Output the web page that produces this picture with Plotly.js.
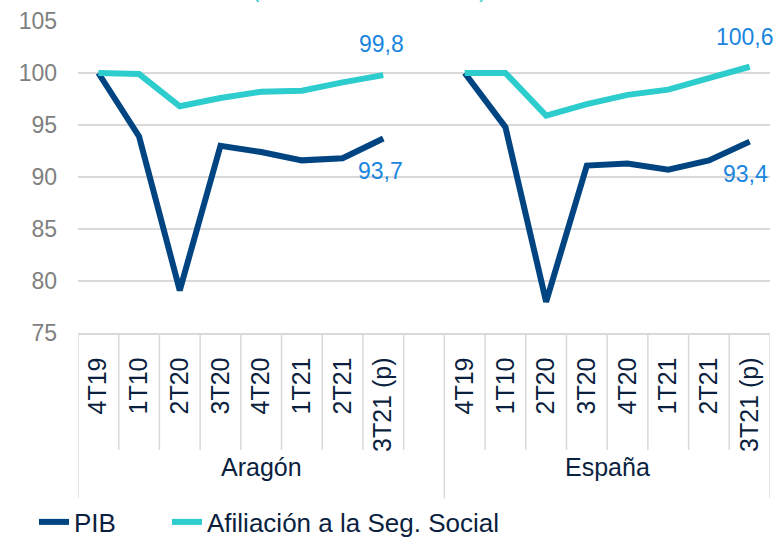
<!DOCTYPE html>
<html><head><meta charset="utf-8">
<script src="https://cdn.plot.ly/plotly-3.0.1.min.js"></script>
<style>html,body{margin:0;padding:0;background:#fff}#chart{width:778px;height:538px}</style>
</head><body><div id="chart"></div>
<script>
// ---- data ----
const quarters = ["4T19", "1T10", "2T20", "3T20", "4T20", "1T21", "2T21", "3T21 (p)"];
const regions = ["Aragón", "España"];
const pibAragon  = [100, 93.9, 79.1, 93.0, 92.4, 91.6, 91.8, 93.7];
const pibEspana  = [100, 94.8, 78.0, 91.1, 91.3, 90.7, 91.6, 93.4];
const afilAragon = [100, 99.9, 96.8, 97.6, 98.2, 98.3, 99.1, 99.8];
const afilEspana = [100, 100.0, 95.9, 97.0, 97.9, 98.4, 99.5, 100.6];
const seriesNames = ["PIB", "Afiliación a la Seg. Social"];
const titleText = "(base 4T19 = 100, total)";

// ---- build positions (gap slot between the two regions) ----
const n = quarters.length;
const gap = 1;
const xA = quarters.map((q, i) => i);
const xE = quarters.map((q, i) => n + gap + i);
const xAll = xA.concat([n]).concat(xE);
const tickText = quarters.concat(quarters);
const tickVals = xA.concat(xE);
const join = (a, b) => a.concat([null]).concat(b);

const navy = "#004481", aqua = "#2dcccd", labelBlue = "#1a86e0", dark = "#0b1f3f";
const font = "Liberation Sans, Arial, sans-serif";

const traces = [
  {x: xAll, y: join(pibAragon, pibEspana), name: seriesNames[0], mode: "lines",
   line: {color: navy, width: 6}, connectgaps: false, legend: "legend"},
  {x: xAll, y: join(afilAragon, afilEspana), name: seriesNames[1], mode: "lines",
   line: {color: aqua, width: 6}, connectgaps: false, legend: "legend2"}
];

const xmin = -0.5, xmax = xE[n - 1] + 0.5;
const shapes = [];
const sepShort = -0.375, sepTall = -0.53;
for (let k = 0; k <= xmax - xmin; k++) {
  const xv = xmin + k;
  const tall = (xv === xmin || xv === xmax || xv === n + 0.5);
  shapes.push({type: "line", xref: "x", yref: "paper", x0: xv, x1: xv, y0: 0, y1: tall ? sepTall : sepShort,
               line: {color: "#d9d9d9", width: 1.5}});
}

const fmt = v => v.toFixed(1).replace(".", ",");
const annotations = [
  {x: (xmin + n + 0.5) / 2, y: -0.481, xref: "x", yref: "paper", text: regions[0], showarrow: false,
   font: {family: font, size: 25, color: dark}},
  {x: (n + 0.5 + xmax) / 2, y: -0.481, xref: "x", yref: "paper", text: regions[1], showarrow: false,
   font: {family: font, size: 25, color: dark}},
  {x: xA[n - 1], y: afilAragon[n - 1], xref: "x", yref: "y", text: fmt(afilAragon[n - 1]),
   showarrow: false, yshift: 31, xshift: -2, font: {family: font, size: 23, color: labelBlue}},
  {x: xA[n - 1], y: pibAragon[n - 1], xref: "x", yref: "y", text: fmt(pibAragon[n - 1]),
   showarrow: false, yshift: -32, xshift: -3, font: {family: font, size: 23, color: labelBlue}},
  {x: xE[n - 1], y: afilEspana[n - 1], xref: "x", yref: "y", text: fmt(afilEspana[n - 1]),
   showarrow: false, yshift: 30, xshift: -5, font: {family: font, size: 23, color: labelBlue}},
  {x: xE[n - 1], y: pibEspana[n - 1], xref: "x", yref: "y", text: fmt(pibEspana[n - 1]),
   showarrow: false, yshift: -32, xshift: -4, font: {family: font, size: 23, color: labelBlue}},
  {x: (250 - 78) / 692, y: 1.055, xref: "paper", yref: "paper", xanchor: "left", yanchor: "bottom",
   text: titleText, showarrow: false, font: {family: font, size: 22, color: aqua}}
];

const legendBase = {orientation: "h", xref: "container", yref: "container", xanchor: "left",
  y: (538 - 522) / 538, yanchor: "middle",
  font: {family: font, size: 26, color: dark}, bgcolor: "rgba(0,0,0,0)", borderwidth: 0};

const layout = {
  width: 778, height: 538,
  margin: {l: 78, r: 8, t: 21, b: 205},
  paper_bgcolor: "#fff", plot_bgcolor: "#fff",
  font: {family: font},
  showlegend: true,
  legend: Object.assign({}, legendBase, {x: 34 / 778}),
  legend2: Object.assign({}, legendBase, {x: 167 / 778}),
  xaxis: {type: "linear", range: [xmin, xmax], tickvals: tickVals, ticktext: tickText, tickangle: -90,
          showgrid: false, zeroline: false, showline: true, linecolor: "#d9d9d9", linewidth: 1.5,
          ticks: "", ticklabelstandoff: 13,
          tickfont: {family: font, size: 25, color: dark}},
  yaxis: {range: [75, 105], dtick: 5, tick0: 75, showgrid: true, gridcolor: "#d9d9d9", gridwidth: 1.5,
          zeroline: false, showline: false, ticks: "", ticklabelstandoff: 20,
          tickfont: {family: font, size: 23, color: "#808080"}},
  shapes: shapes,
  annotations: annotations
};

Plotly.newPlot("chart", traces, layout, {displayModeBar: false, staticPlot: true});
</script>
</body></html>
